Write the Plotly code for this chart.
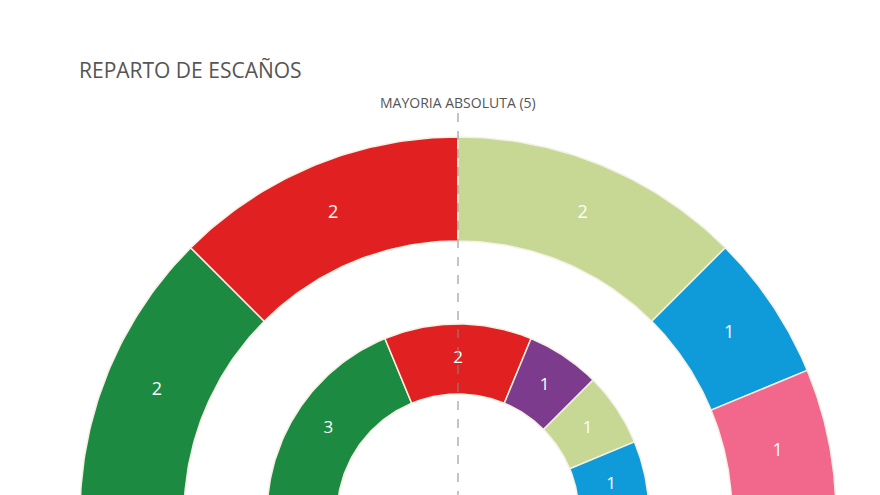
import numpy as np
import plotly.graph_objects as go

# Seats per party, left to right
outer_seats = [2, 2, 2, 1, 1]
outer_colors = ["#1c8a40", "#e12121", "#c6d894", "#0f9bd9", "#f2678c"]
inner_seats = [3, 2, 1, 1, 1]
inner_colors = ["#1c8a40", "#e12121", "#7c3b8c", "#c6d894", "#0f9bd9"]
majority = 5
title_text = "REPARTO DE ESCAÑOS"
majority_text = "MAYORIA ABSOLUTA (5)"

rings = [
    (outer_seats, outer_colors, 274, 378, 18),
    (inner_seats, inner_colors, 121, 191, 17),
]

fig = go.Figure()
for seats, colors, r0, r1, fs in rings:
    total = sum(seats)
    cum = 0
    lx, ly, lt = [], [], []
    for s, c in zip(seats, colors):
        a0 = np.pi * (1 - cum / total)
        a1 = np.pi * (1 - (cum + s) / total)
        t = np.linspace(a0, a1, 60)
        xs = np.concatenate([r1 * np.cos(t), r0 * np.cos(t[::-1])])
        ys = np.concatenate([r1 * np.sin(t), r0 * np.sin(t[::-1])])
        xs = np.append(xs, xs[0])
        ys = np.append(ys, ys[0])
        fig.add_trace(go.Scatter(x=xs, y=ys, fill="toself", fillcolor=c,
                                 line=dict(color="#f4f0e4", width=1.5),
                                 mode="lines", hoverinfo="skip", showlegend=False))
        am = (a0 + a1) / 2
        rm = (r0 + r1) / 2
        lx.append(rm * np.cos(am))
        ly.append(rm * np.sin(am))
        lt.append(str(s))
        cum += s
    fig.add_trace(go.Scatter(x=lx, y=ly, text=lt, mode="text",
                             textfont=dict(color="white", size=fs, family="Open Sans"),
                             hoverinfo="skip", showlegend=False))

fig.add_shape(type="line", x0=0, x1=0, y0=402, y1=0,
              line=dict(color="#888888", width=1, dash="dash"), layer="above")

fig.add_annotation(x=0, y=413, text=majority_text, showarrow=False,
                   font=dict(size=14, color="#555555", family="Open Sans"),
                   xanchor="center", yanchor="middle")
fig.add_annotation(x=-381, y=445, text=title_text, showarrow=False,
                   font=dict(size=21, color="#555555", family="Open Sans"),
                   xanchor="left", yanchor="middle")

fig.update_layout(
    width=880, height=495,
    margin=dict(l=0, r=0, t=0, b=0),
    paper_bgcolor="white", plot_bgcolor="white",
    xaxis=dict(range=[-450, 430], visible=False, fixedrange=True),
    yaxis=dict(range=[12, 507], visible=False, fixedrange=True),
)
fig.write_html("out.html")
